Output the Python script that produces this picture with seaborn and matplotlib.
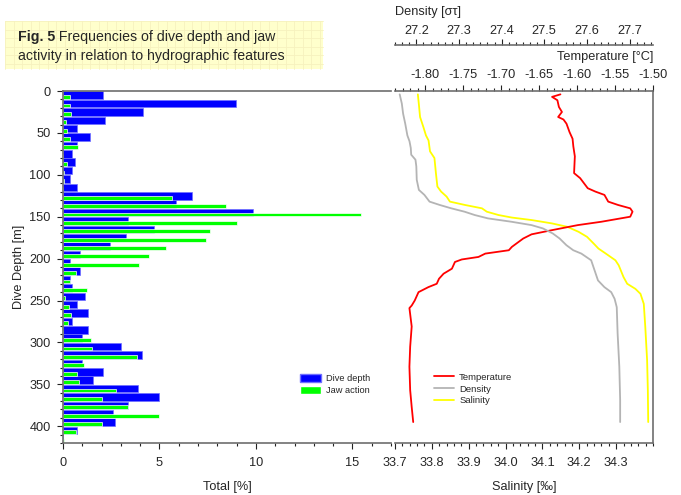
import numpy as np
import pandas as pd
import seaborn as sns
import matplotlib.pyplot as plt
from matplotlib.ticker import MultipleLocator, AutoMinorLocator
from matplotlib.patches import Rectangle, Patch
from matplotlib.lines import Line2D

# 10 m depth bins, upper edge of each bin
bin_top = np.arange(0, 420, 10)
dive_depth = [2.07, 8.96, 4.17, 2.19, 0.73, 1.39, 0.73, 0.47, 0.63, 0.47,
              0.36, 0.73, 6.68, 5.87, 9.86, 3.39, 4.70, 3.25, 2.45, 0.89,
              0.38, 0.89, 0.38, 0.47, 1.15, 0.73, 1.27, 0.47, 1.27, 1.01,
              2.99, 4.10, 0.99, 2.07, 1.55, 3.91, 4.98, 3.39, 2.60, 2.71,
              0.73, 0.0]
jaw_action = [0.35, 0.35, 0.40, 0.14, 0.19, 0.35, 0.78, 0.0, 0.23, 0.07,
              0.03, 0.0, 5.64, 8.44, 15.42, 9.01, 7.60, 7.40, 5.35, 4.48,
              3.92, 0.69, 0.36, 1.23, 0.12, 0.30, 0.43, 0.28, 0.0, 1.44,
              1.49, 3.85, 1.11, 0.71, 0.85, 2.74, 2.00, 3.39, 4.95, 2.00,
              0.66, 0.03]

temp_depth = [4, 7, 11, 19, 25, 31, 34, 39, 49, 57, 66, 78, 98, 104, 110, 116,
              120, 124, 132, 136, 140, 144, 150, 156, 160, 166, 171, 176, 182,
              186, 190, 194, 198, 201, 204, 212, 218, 224, 230, 234, 240, 250,
              256, 259, 281, 305, 329, 357, 377, 395]
temperature = [-1.622, -1.633, -1.626, -1.624, -1.620, -1.625, -1.618, -1.614,
               -1.610, -1.606, -1.605, -1.603, -1.604, -1.596, -1.591, -1.586,
               -1.576, -1.564, -1.559, -1.546, -1.530, -1.527, -1.530, -1.568,
               -1.599, -1.633, -1.660, -1.671, -1.680, -1.686, -1.690, -1.721,
               -1.730, -1.752, -1.761, -1.765, -1.776, -1.782, -1.785, -1.796,
               -1.809, -1.814, -1.818, -1.821, -1.818, -1.820, -1.821, -1.820,
               -1.818, -1.816]

dens_depth = [4, 15, 27, 39, 53, 60, 68, 76, 82, 90, 106, 118, 124, 132, 136,
              140, 144, 148, 152, 156, 160, 164, 170, 176, 184, 190, 194, 202,
              214, 226, 234, 240, 248, 258, 289, 329, 369, 395]
density = [27.161, 27.166, 27.169, 27.174, 27.179, 27.184, 27.187, 27.188,
           27.198, 27.200, 27.201, 27.206, 27.219, 27.231, 27.255, 27.282,
           27.313, 27.337, 27.368, 27.423, 27.470, 27.497, 27.520, 27.536,
           27.552, 27.568, 27.587, 27.610, 27.618, 27.626, 27.641, 27.657,
           27.665, 27.670, 27.672, 27.676, 27.678, 27.678]

sal_depth = [4, 17, 31, 43, 53, 59, 72, 80, 98, 114, 120, 126, 132, 136, 140,
             144, 148, 151, 154, 158, 162, 168, 174, 182, 188, 194, 202, 208,
             222, 230, 236, 242, 254, 281, 321, 357, 395]
salinity = [33.762, 33.765, 33.768, 33.777, 33.784, 33.791, 33.795, 33.807,
            33.811, 33.815, 33.825, 33.840, 33.849, 33.890, 33.936, 33.949,
            33.981, 34.017, 34.071, 34.126, 34.167, 34.198, 34.221, 34.239,
            34.252, 34.272, 34.298, 34.307, 34.320, 34.330, 34.352, 34.366,
            34.375, 34.379, 34.384, 34.386, 34.387]

sns.set_style("white")
plt.rcParams["font.family"] = ["Liberation Sans", "DejaVu Sans"]

FS = 9.2
SPINE = "#6e6e6e"
W, H = 681, 495

fig = plt.figure(figsize=(6.81, 4.95), dpi=100)

# title box with faint grid
fig.patches.append(Rectangle((5 / W, 1 - 69 / H), 318 / W, 48 / H,
                             transform=fig.transFigure, facecolor="#ffffcc",
                             edgecolor="none", zorder=0))
for gx in np.arange(5, 323, 8.5):
    fig.add_artist(Line2D([gx / W, gx / W], [1 - 69 / H, 1 - 21 / H],
                          color="#f6f1be", lw=0.6, zorder=0.5))
for gy in np.arange(21, 69, 8.5):
    fig.add_artist(Line2D([5 / W, 323 / W], [1 - gy / H, 1 - gy / H],
                          color="#f6f1be", lw=0.6, zorder=0.5))
t1 = fig.text(18 / W, 1 - 41 / H, "Fig. 5", fontsize=10.2, fontweight="bold",
              va="baseline")
fig.add_artist(plt.Annotation(" Frequencies of dive depth and jaw",
                              xy=(1, 0), xycoords=t1, fontsize=10.2,
                              va="bottom"))
fig.text(18 / W, 1 - 60 / H, "activity in relation to hydrographic features",
         fontsize=10.2, va="baseline")

# ---------- left panel: histogram ----------
ax1 = fig.add_axes([63 / W, 52 / H, 328 / W, 352 / H])
ax1.barh(bin_top + 5, dive_depth, height=9, color="#0000ff",
         edgecolor="#7070ff", linewidth=0.5)
ax1.barh(bin_top + 7.3, jaw_action, height=4.6, color="#00ff00",
         edgecolor="white", linewidth=0.5)

ax1.set_xlim(0, 17)
ax1.set_ylim(420, 0)
ax1.set_xticks([0, 5, 10, 15])
ax1.xaxis.set_minor_locator(MultipleLocator(1))
ax1.yaxis.set_major_locator(MultipleLocator(50))
ax1.yaxis.set_minor_locator(MultipleLocator(10))
ax1.tick_params(which="both", direction="out", color="#222222",
                labelsize=FS, left=True, bottom=True)
ax1.tick_params(which="major", length=4, width=0.8)
ax1.tick_params(which="minor", length=2.5, width=0.8)
ax1.tick_params(axis="x", pad=6)
ax1.tick_params(axis="y", pad=5)
for s in ["left", "bottom", "top"]:
    ax1.spines[s].set_color(SPINE)
    ax1.spines[s].set_linewidth(1.2)
ax1.spines["right"].set_visible(False)
ax1.set_xlabel("Total [%]", fontsize=FS, labelpad=9)
ax1.set_ylabel("Dive Depth [m]", fontsize=FS, labelpad=3)

bar_handles = [Patch(facecolor="#0000ff", edgecolor="#7070ff", label="Dive depth"),
               Patch(facecolor="#00ff00", edgecolor="white", label="Jaw action")]
fig.legend(handles=bar_handles, loc="lower left",
           bbox_to_anchor=(293 / W, 1 - 402 / H), frameon=False, fontsize=6.7,
           handlelength=2.3, handleheight=0.9, handletextpad=0.5,
           labelspacing=0.35, borderpad=0.2)

# ---------- right panel: hydrography ----------
ax2 = fig.add_axes([395 / W, 52 / H, 258 / W, 352 / H])
ax_t = ax2.twiny()
ax_d = ax2.twiny()

sns.lineplot(x=salinity, y=sal_depth, orient="y", sort=False, estimator=None,
             color="#ffff00", linewidth=1.3, ax=ax2)
sns.lineplot(x=density, y=dens_depth, orient="y", sort=False, estimator=None,
             color="#b4b4b4", linewidth=1.3, ax=ax_d)
sns.lineplot(x=temperature, y=temp_depth, orient="y", sort=False,
             estimator=None, color="#ff0000", linewidth=1.3, ax=ax_t)

ax2.set_ylim(420, 0)
ax2.set_xlim(33.7, 34.4)
ax_t.set_xlim(-1.84, -1.50)
ax_d.set_xlim(27.15, 27.755)
ax2.set_yticks([])
ax_t.set_yticks([])
ax_d.set_yticks([])
ax2.set_ylabel("")

ax2.set_xticks(np.round(np.arange(33.7, 34.35, 0.1), 1))
ax2.xaxis.set_minor_locator(MultipleLocator(0.02))
ax_t.set_xticks(np.round(np.arange(-1.80, -1.49, 0.05), 2))
ax_t.xaxis.set_major_formatter(plt.FormatStrFormatter("%.2f"))
ax_t.xaxis.set_minor_locator(MultipleLocator(0.01))
ax_d.set_xticks(np.round(np.arange(27.2, 27.75, 0.1), 1))
ax_d.xaxis.set_minor_locator(AutoMinorLocator(6))

for a in (ax2, ax_t, ax_d):
    for s in a.spines.values():
        s.set_visible(False)
        s.set_color(SPINE)
        s.set_linewidth(1.2)
    a.tick_params(which="both", direction="out", color="#222222",
                  labelsize=FS)
    a.tick_params(which="major", length=4, width=0.8)
    a.tick_params(which="minor", length=2.5, width=0.8)

ax2.spines["bottom"].set_visible(True)
ax2.spines["right"].set_visible(True)
ax2.tick_params(axis="x", which="both", bottom=True, top=False, pad=6)
ax_t.spines["top"].set_visible(True)
ax_t.tick_params(axis="x", which="both", top=True, bottom=False, pad=3)
ax_d.spines["top"].set_visible(True)
ax_d.spines["top"].set_position(("outward", 33))
ax_d.tick_params(axis="x", which="both", top=True, bottom=False, pad=2)

ax2.set_xlabel("Salinity [‰]", fontsize=FS, labelpad=9)
ax_t.set_xlabel("Temperature [°C]", fontsize=FS, ha="right", va="center")
ax_t.xaxis.set_label_coords(1.0, 1 + (91 - 57) / 352)
ax_d.set_xlabel("Density [στ]", fontsize=FS, ha="left", va="center")
ax_d.xaxis.set_label_coords(0.0, 1 + (91 - 12) / 352)

line_handles = [Line2D([], [], color="#ff0000", lw=1.3, label="Temperature"),
                Line2D([], [], color="#b4b4b4", lw=1.3, label="Density"),
                Line2D([], [], color="#ffff00", lw=1.3, label="Salinity")]
fig.legend(handles=line_handles, loc="lower left",
           bbox_to_anchor=(427 / W, 1 - 412 / H), frameon=False, fontsize=6.8,
           handlelength=2.2, handletextpad=0.5, labelspacing=0.3,
           borderpad=0.2)

fig.savefig("out.png", dpi=100)
